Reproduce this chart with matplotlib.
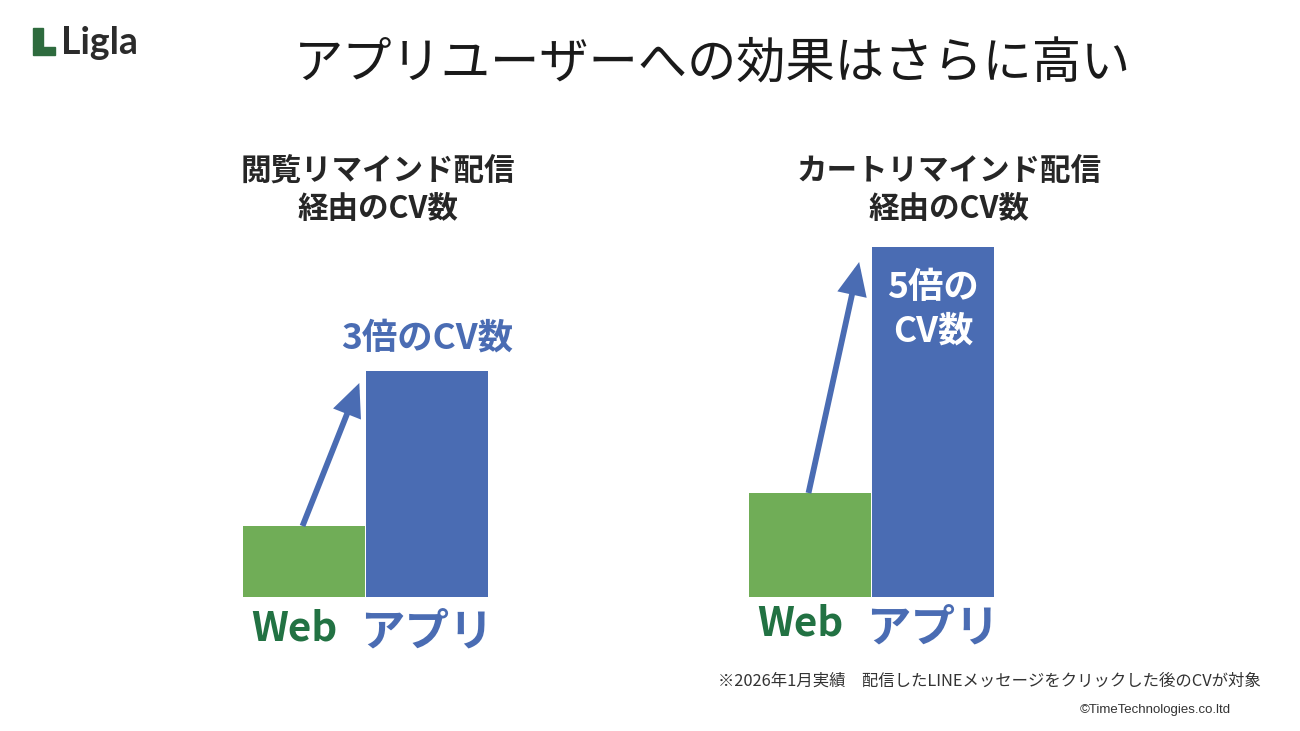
import matplotlib
matplotlib.use('Agg')
import matplotlib.pyplot as plt
from matplotlib.patches import FancyArrowPatch, Rectangle

plt.rcParams['font.family'] = ['Noto Sans CJK JP', 'DejaVu Sans']

# bar heights (same arbitrary scale for both panels)
categories = ['Web', 'アプリ']
browse_values = [71, 226]
cart_values = [104, 350]

panel_titles = ['閲覧リマインド配信\n経由のCV数', 'カートリマインド配信\n経由のCV数']
browse_note = '3倍のCV数'
cart_note = '5倍の\nCV数'
main_title = 'アプリユーザーへの効果はさらに高い'
footnote = '※2026年1月実績　配信したLINEメッセージをクリックした後のCVが対象'
credit = '©TimeTechnologies.co.ltd'

GREEN = '#70AD57'
BLUE = '#4A6CB3'
DARK_GREEN = '#227243'
TEXT = '#262626'

W, H = 1300, 731
fig = plt.figure(figsize=(13, 7.31), dpi=100)


def px_axes(left, bottom, width, height):
    # pixel box (top-left origin) -> figure fraction axes
    return fig.add_axes([left / W, 1 - bottom / H, width / W, height / H])


def panel(ax, values, arrow_end, web_y, app_y):
    ax.bar([0, 1], values, width=0.985, color=[GREEN, BLUE])
    ax.set_xlim(-0.5, 1.5)
    ax.set_ylim(0, 360)
    ax.axis('off')
    ax.text(-0.08, web_y, categories[0], ha='center', va='center', fontsize=29,
            fontweight='bold', color=DARK_GREEN, clip_on=False)
    ax.text(1.0, app_y, categories[1], ha='center', va='center', fontsize=32,
            fontweight='bold', color=BLUE, clip_on=False)
    arr = FancyArrowPatch((-0.01, values[0]), arrow_end,
                          arrowstyle='-|>,head_length=0.6,head_width=0.27',
                          mutation_scale=28, lw=4.2, color=BLUE,
                          capstyle='butt', joinstyle='miter',
                          shrinkA=0, shrinkB=0, clip_on=False)
    ax.add_patch(arr)


ax1 = px_axes(242, 597, 247, 360)
panel(ax1, browse_values, (0.45, 214), -32, -36)
ax1.text(1.0, 259, browse_note, ha='center', va='center', fontsize=25.5,
         fontweight='bold', color=BLUE, clip_on=False)

ax2 = px_axes(748, 597, 247, 360)
panel(ax2, cart_values, (0.40, 335), -27, -32)
ax2.text(1.0, 288, cart_note, ha='center', va='center', fontsize=25.5,
         fontweight='bold', color='white', linespacing=1.32)

fig.text(378 / W, 1 - 190 / H, panel_titles[0], ha='center', va='center',
         fontsize=22, fontweight='bold', color=TEXT, linespacing=1.27)
fig.text(949 / W, 1 - 190 / H, panel_titles[1], ha='center', va='center',
         fontsize=22, fontweight='bold', color=TEXT, linespacing=1.27)

fig.text(712 / W, 1 - 65 / H, main_title, ha='center', va='center',
         fontsize=35.5, fontweight='normal', color='#1a1a1a')

fig.text(718 / W, 1 - 681 / H, footnote, ha='left', va='center',
         fontsize=11.8, color='#333333')
fig.text(1231 / W, 1 - 710 / H, credit, ha='right', va='center',
         fontsize=9.5, color='#333333', family=['Liberation Sans', 'DejaVu Sans'])

# logo
fig.patches.append(Rectangle((33 / W, 1 - 47 / H), 10 / W, 19 / H,
                             transform=fig.transFigure, color='#2E6B3E'))
fig.patches.append(Rectangle((33 / W, 1 - 55 / H), 22 / W, 8 / H,
                             transform=fig.transFigure, color='#2E6B3E'))
fig.text(61 / W, 1 - 54 / H, 'Ligla', ha='left', va='baseline', fontsize=27,
         fontweight='bold', color='#2b2b2b', family=['Lato', 'DejaVu Sans'])

fig.savefig('out.png', dpi=100)
